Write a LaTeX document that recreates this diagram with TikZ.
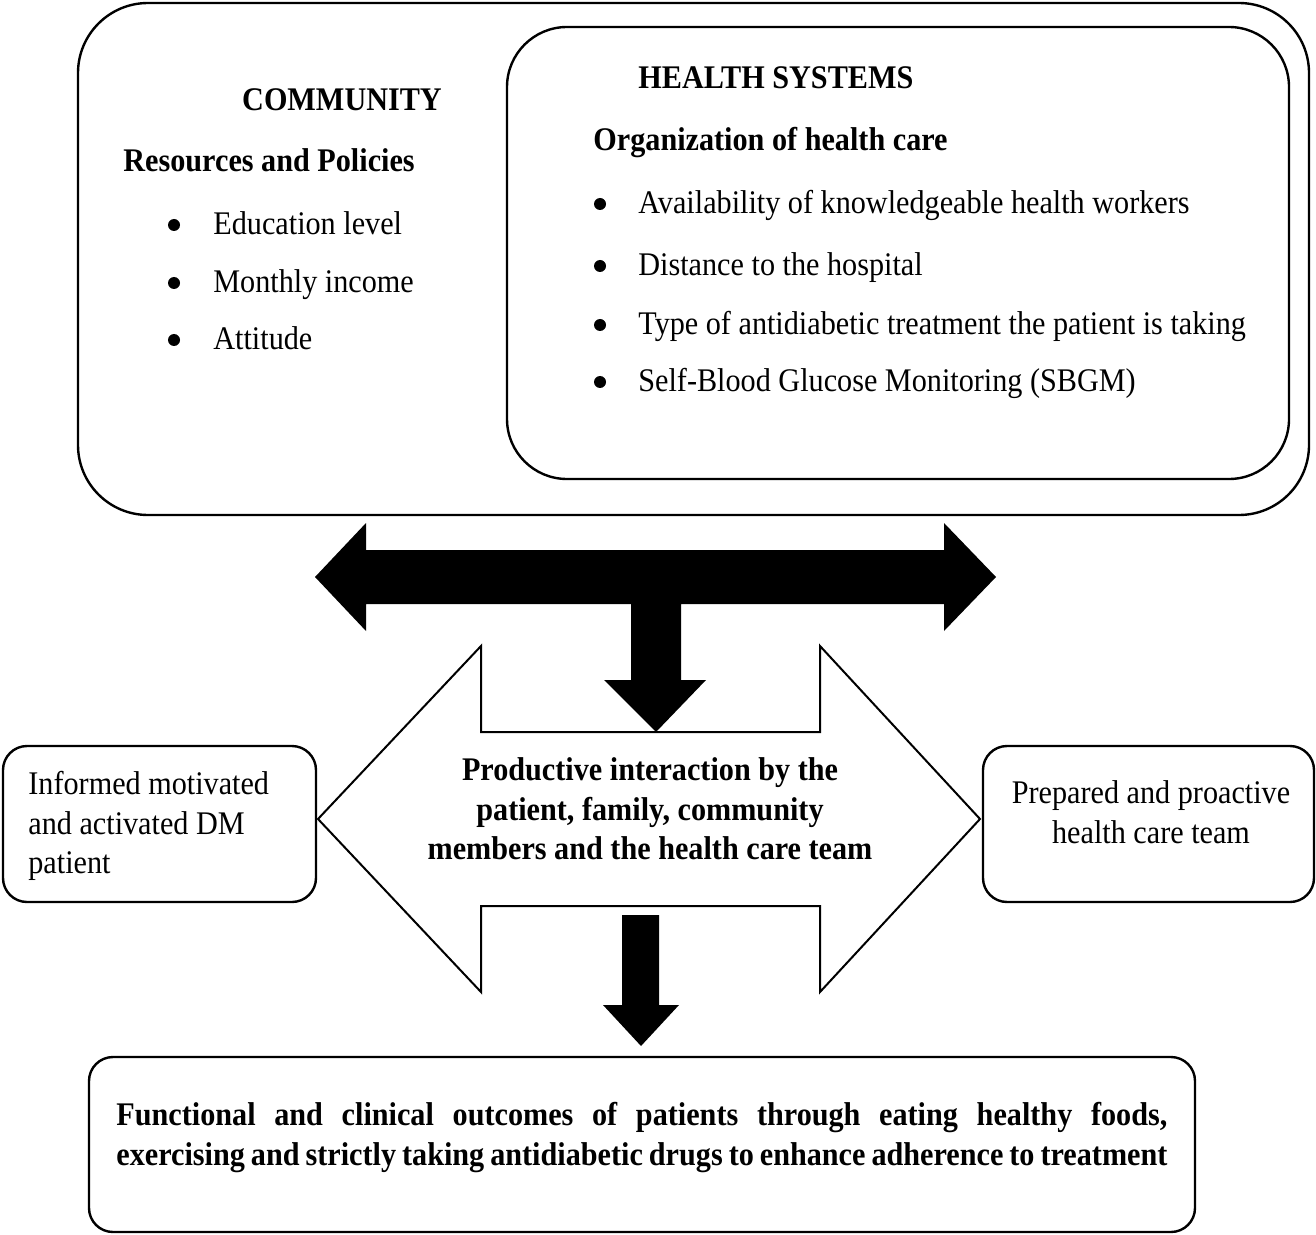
\documentclass[tikz,border=0pt]{standalone}
\usepackage{fontspec}
\setmainfont{Liberation Serif}[FakeStretch=0.915]
\usetikzlibrary{positioning}
\def\bodysize{\fontsize{16.5}{20}\selectfont}

\begin{document}
\begin{tikzpicture}[x=0.5pt,y=-0.5pt,
  boxline/.style={line width=1.2pt,rounded corners=12pt},
  txt/.style={inner sep=0pt,font=\bodysize},
  headtxt/.style={inner sep=0pt,font=\bodysize\bfseries},
  dot/.style={circle,fill=black,inner sep=0pt,minimum size=6pt}]
\useasboundingbox (0,0) rectangle (1316,1235);
%\draw[help lines,step=50] (0,0) grid (1316,1235);

% community and health systems
\draw[boxline,rounded corners=35pt] (78,3) rectangle (1309,515);
\draw[boxline,rounded corners=30pt] (507,27) rectangle (1289,479);

\node[headtxt,anchor=base] (comm) at (342,111) {COMMUNITY};
\node[headtxt,anchor=base west] (res) at (123,172) {Resources and Policies};
\node[dot] (b1) at (174,225) {};
\node[dot] (b2) at (174,283) {};
\node[dot] (b3) at (174,340) {};
\node[txt,anchor=base west] (edu) at (213,235) {Education level};
\node[txt,anchor=base west] (inc) at (213,293) {Monthly income};
\node[txt,anchor=base west] (att) at (213,350) {Attitude};

\node[headtxt,anchor=base west] (hs) at (638,89) {HEALTH SYSTEMS};
\node[headtxt,anchor=base west] (org) at (593,151) {Organization of health care};
\node[dot] (c1) at (600,204) {};
\node[dot] (c2) at (600,266) {};
\node[dot] (c3) at (600,325) {};
\node[dot] (c4) at (600,382) {};
\node[txt,anchor=base west] (avl) at (638,214) {Availability of knowledgeable health workers};
\node[txt,anchor=base west] (dist) at (638,276) {Distance to the hospital};
\node[txt,anchor=base west] (type) at (638,335) {Type of antidiabetic treatment the patient is taking};
\node[txt,anchor=base west] (sbgm) at (638,392) {Self-Blood Glucose Monitoring (SBGM)};

% black double arrow with down branch
\fill (315,577)--(366,523)--(366,550)--(944,550)--(944,523)--(996,577)--(944,631)--(944,604)
  --(681,604)--(681,680)--(706,680)--(656,732)--(604,680)--(631,680)--(631,604)
  --(366,604)--(366,631)--cycle;

% white double arrow
\draw[line width=1pt,fill=white] (481,732)--(481,646)--(318,819)--(481,992)--(481,906)
  --(820,906)--(820,992)--(980,819)--(820,646)--(820,732)--cycle;
\node[headtxt,anchor=base] (pi1) at (650,780) {Productive interaction by the};
\node[headtxt,anchor=base] (pi2) at (650,820) {patient, family, community};
\node[headtxt,anchor=base] (pi3) at (650,859) {members and the health care team};

% side boxes
\draw[boxline] (3,746) rectangle (316,902);
\node[txt,anchor=base west] (inf1) at (28,794) {Informed motivated};
\node[txt,anchor=base west] (inf2) at (28,834) {and activated DM};
\node[txt,anchor=base west] (inf3) at (28,873) {patient};

\draw[boxline] (983,746) rectangle (1314,902);
\node[txt,anchor=base] (prep1) at (1151,803) {Prepared and proactive};
\node[txt,anchor=base] (prep2) at (1151,843) {health care team};

% lower black arrow
\fill (622,915)--(659,915)--(659,1005)--(679,1005)--(641,1046)--(603,1005)--(622,1005)--cycle;

% outcomes
\draw[boxline] (89,1057) rectangle (1195,1232);
\node[headtxt,anchor=base west] (out1) at (116,1125) {\makebox[525.5pt][s]{Functional and clinical outcomes of patients through eating healthy foods,}};
\node[headtxt,anchor=base west] (out2) at (116,1165) {\makebox[525.5pt][s]{exercising and strictly taking antidiabetic drugs to enhance adherence to treatment}};
\end{tikzpicture}
\end{document}
